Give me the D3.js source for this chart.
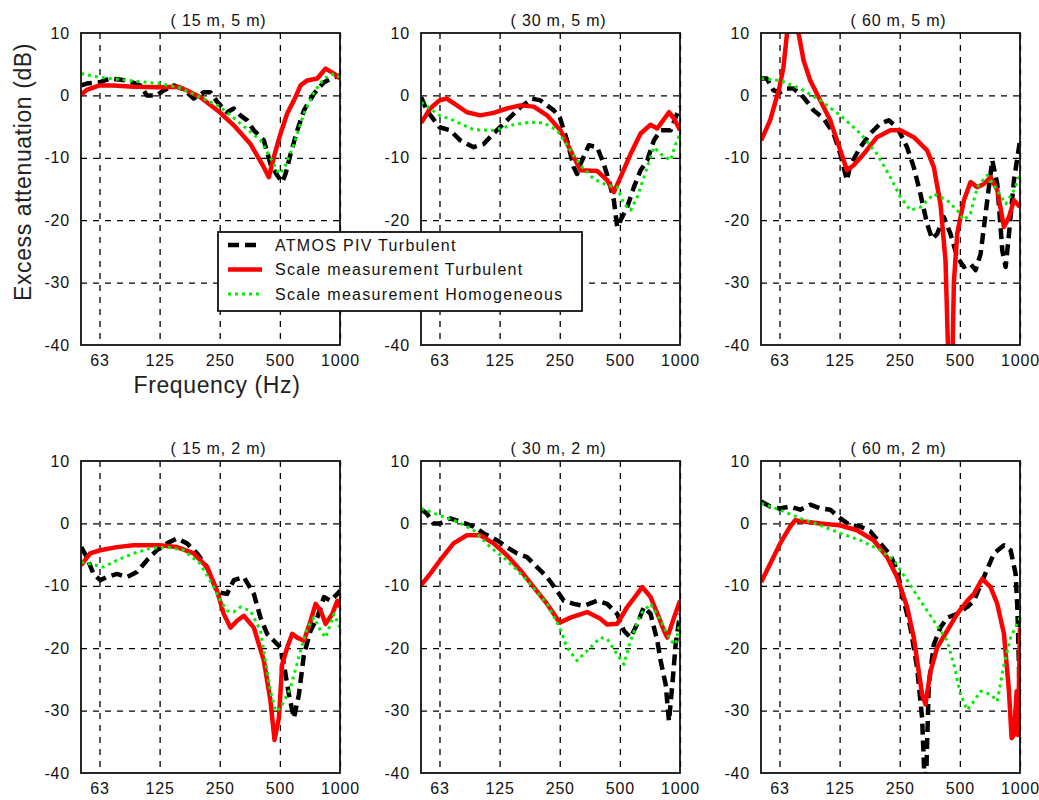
<!DOCTYPE html>
<html>
<head>
<meta charset="utf-8">
<script src="https://cdn.jsdelivr.net/npm/d3@7"></script>
<style>
  body { margin: 0; background: #fff; }
  svg { display: block; font-family: "Liberation Sans", Arial, sans-serif; }
  .tick-label { font-size: 16px; letter-spacing: 0.8px; fill: #111; }
  .grid line { stroke: #000; stroke-width: 1.3; stroke-dasharray: 6,6; }
</style>
</head>
<body>
<svg id="chart" width="1039" height="800"></svg>
<script>
// frequency ticks (Hz) and their printed labels
const freqTicks = [62.5, 125, 250, 500, 1000];
const freqLabels = ["63", "125", "250", "500", "1000"];
const dbTicks = [10, 0, -10, -20, -30, -40];

const seriesNames = ["ATMOS PIV Turbulent", "Scale measurement Turbulent", "Scale measurement Homogeneous"];
const panelTitles = ["( 15 m, 5 m)", "( 30 m, 5 m)", "( 60 m, 5 m)", "( 15 m, 2 m)", "( 30 m, 2 m)", "( 60 m, 2 m)"];

// [frequency Hz, excess attenuation dB]
const atmos15_5 = [[50.6,1.6],[54,1.9],[62.5,2.1],[70.7,2.7],[85.7,2.4],[100,1.6],[108,0],[121.2,0],[130.9,0.8],[147,1.6],[164.9,1],[185.1,-0.5],[207.8,0.5],[224.4,0.5],[242.4,-1],[272,-2.7],[293.9,-2.1],[317.4,-3.2],[342.8,-4],[370.3,-5.6],[415.6,-7.2],[448.8,-11],[484.9,-12.8],[513.6,-13.9],[533.6,-12.6],[565.6,-9.4],[610.9,-5.6],[659.8,-2.4],[740.6,0.3],[831.3,2.1],[933,2.9],[1000,3.2]];
const scaleT15_5 = [[50.6,0.1],[54,0.9],[62.5,1.6],[73.5,1.6],[92.6,1.4],[125,1.3],[152.7,1.4],[171.4,0.8],[200,-0.3],[250,-2.7],[293.9,-4.8],[356.3,-7.8],[415.6,-11.5],[440.3,-13.1],[466.5,-9.9],[503.9,-6.1],[544,-2.9],[587.8,-0.8],[635,1.6],[685.7,2.4],[769.6,2.7],[847.5,4.3],[933,3.5],[1000,2.7]];
const scaleH15_5 = [[50.6,3.5],[62.5,2.9],[92.6,2.3],[125,1.9],[158.7,1.2],[200,-0.3],[250,-1.8],[317.4,-4.5],[399.9,-7.2],[466.5,-11],[494.4,-12.6],[523.6,-11.8],[587.8,-7.8],[659.8,-2.9],[740.6,0.5],[831.3,2.7],[933,3.5],[1000,2.9]];

const atmos30_5 = [[50.6,-0.3],[54,-2.4],[62.5,-5.1],[70.7,-5.6],[79.4,-7.2],[92.6,-8.3],[103.9,-7.8],[116.6,-6.1],[136,-4],[158.7,-1.9],[181.6,-0.5],[200,-0.8],[233.3,-2.4],[250,-3.5],[272,-7.2],[293.9,-11.5],[305.4,-12.6],[317.4,-11],[349.4,-8],[384.8,-8.3],[415.6,-11],[440.3,-13.6],[466.5,-16.8],[484.9,-21.1],[503.9,-20],[544,-17.9],[587.8,-14.7],[635,-12],[685.7,-10.4],[740.6,-7.2],[800,-5.6],[897.8,-5.6],[951.1,-3.5],[1000,-1.9]];
const scaleT30_5 = [[50.6,-4.4],[56.1,-2.1],[62.5,-0.8],[68,-0.5],[76.4,-1.6],[85.7,-2.7],[100,-3.2],[116.6,-2.8],[136,-2.1],[158.7,-1.6],[185.1,-1.8],[216,-3.2],[252,-5.6],[282.8,-8.8],[317.4,-12],[384.8,-12.1],[431.9,-13.6],[466.5,-15.5],[503.9,-13.1],[565.6,-9.4],[635,-6.1],[712.5,-4.7],[769.6,-5.3],[880.8,-2.7],[933,-3.7],[1000,-5.6]];
const scaleH30_5 = [[50.6,-1.1],[56.1,-2.1],[62.5,-3.2],[73.5,-4],[92.6,-5.5],[116.6,-5.6],[147,-4.7],[178.1,-4.3],[207.8,-4.4],[242.4,-5.6],[282.8,-8.8],[317.4,-11.2],[370.3,-13.4],[431.9,-14.4],[484.9,-14.7],[523.6,-17.4],[565.6,-18.4],[610.9,-16.3],[659.8,-13.1],[740.6,-8.3],[800,-9.4],[897.8,-10.4],[951.1,-7.8],[1000,-6.1]];

const atmos60_5 = [[50.6,2.7],[54,2.7],[58.3,0.8],[63,0.5],[68,1.1],[73.5,1.1],[82.5,-0.3],[92.6,-2.4],[103.9,-3.7],[116.6,-6.1],[126,-9.4],[136,-13.6],[141.4,-11.2],[158.7,-8.3],[178.1,-6.1],[200,-4.5],[220.2,-4],[242.4,-5.1],[272,-8.3],[293.9,-11.5],[317.4,-15.8],[342.8,-20.6],[363.2,-23],[384.8,-22.2],[415.6,-19.5],[448.8,-22.2],[484.9,-25.9],[523.6,-27.5],[565.6,-27],[599.2,-28],[635,-25.4],[685.7,-16.8],[726.4,-10.4],[769.6,-14.2],[815.5,-24.9],[847.5,-27.5],[880.8,-22.2],[933,-13.6],[1000,-7.2]];
const scaleT60_5 = [[50.6,-7.2],[56.1,-4],[62.5,1.3],[65.4,4.5],[68.2,10],[72.9,15],[77.8,10],[82.5,5.6],[89.1,2.4],[100,-0.8],[112.2,-4],[126,-8.8],[136,-12],[147,-11.2],[164.9,-9.4],[192.4,-6.7],[224.4,-5.6],[252,-5.6],[293.9,-6.7],[342.8,-8.8],[370.3,-11.5],[399.9,-17.4],[423.7,-26.5],[440.3,-45],[457.5,-45],[466.5,-30],[484.9,-22.2],[523.6,-16.8],[565.6,-13.9],[610.9,-14.7],[659.8,-14.2],[712.5,-13.1],[769.6,-15.2],[831.3,-21.1],[880.8,-19.5],[933,-16.8],[1000,-17.9]];
const scaleH60_5 = [[50.6,2.7],[62.5,2.4],[79.4,1.1],[100,-0.8],[126,-3.2],[158.7,-6.1],[192.4,-9.4],[224.4,-13.1],[252,-16.3],[282.8,-18.4],[317.4,-17.9],[370.3,-15.8],[431.9,-16.8],[484.9,-18.4],[523.6,-20],[565.6,-18.9],[610.9,-14.7],[685.7,-12.8],[769.6,-15.2],[847.5,-17.4],[933,-15.2],[1000,-12.6]];

const atmos15_2 = [[50.6,-3.8],[54,-5.4],[58.3,-8.1],[63,-9.1],[68,-8.6],[76.4,-8.1],[85.7,-8.6],[96.2,-7.8],[108,-5.9],[121.2,-4.3],[136,-3.2],[152.7,-2.4],[171.4,-3.2],[192.4,-4.8],[216,-7],[242.4,-11],[272,-11.3],[293.9,-9.1],[329.9,-8.6],[370.3,-11.3],[399.9,-15.1],[431.9,-17.7],[466.5,-18.8],[503.9,-19.9],[523.6,-22.6],[554.7,-27.4],[587.8,-31.2],[622.9,-27.4],[659.8,-21],[712.5,-17.2],[769.6,-15.1],[831.3,-11.8],[897.8,-12.4],[969.6,-11.3],[1000,-10.8]];
const scaleT15_2 = [[50.6,-6.7],[56.1,-4.8],[63,-4.3],[76.4,-3.8],[92.6,-3.5],[125,-3.5],[152.7,-3.8],[185.1,-4.8],[216,-7],[242.4,-10.8],[261.8,-14.5],[282.8,-16.7],[305.4,-15.6],[329.9,-14.8],[370.3,-16.7],[415.6,-22],[448.8,-28.5],[470,-34.7],[494.4,-31.2],[513.6,-22.6],[544,-19.9],[576.6,-17.7],[610.9,-18.3],[659.8,-18.8],[712.5,-15.6],[754.9,-12.9],[800,-14],[847.5,-16.1],[915.3,-14.5],[969.6,-12.4],[1000,-13.4]];
const scaleH15_2 = [[50.6,-6.2],[56.1,-6.5],[65.4,-7],[76.4,-5.9],[92.6,-4.8],[112.2,-4],[136,-3.8],[164.9,-4.3],[200,-6.5],[233.3,-10.2],[252,-12.4],[272,-14],[293.9,-14.2],[317.4,-13.4],[356.3,-14],[399.9,-17.2],[448.8,-26.9],[475.6,-30.1],[503.9,-29.6],[565.6,-26.3],[635,-20.4],[685.7,-16.7],[740.6,-15.1],[800,-17.2],[847.5,-18.3],[933,-14.5],[1000,-16.7]];

const atmos30_2 = [[50.6,2.2],[54,1.6],[58.3,0],[63,0],[70.7,0.8],[79.4,0.3],[92.6,-0.5],[103.9,-1.6],[121.2,-2.7],[136,-3.8],[152.7,-4.8],[171.4,-5.4],[192.4,-7],[216,-8.6],[242.4,-10.8],[261.8,-12.4],[293.9,-12.9],[329.9,-13.2],[384.8,-12.4],[431.9,-12.9],[484.9,-14.5],[523.6,-17.2],[565.6,-18.3],[610.9,-16.1],[659.8,-13.4],[712.5,-14.5],[769.6,-18.8],[800,-22],[847.5,-25.8],[880.8,-31.7],[915.3,-25.8],[951.1,-19.4],[1000,-14.5]];
const scaleT30_2 = [[50.6,-9.9],[56.1,-8.1],[63,-5.9],[73.5,-3.2],[85.7,-1.9],[100,-1.9],[116.6,-3.2],[136,-5.1],[158.7,-7.5],[185.1,-10.2],[216,-12.9],[250,-15.9],[282.8,-15.1],[342.8,-14.2],[399.9,-15.3],[431.9,-16.2],[484.9,-16.1],[544,-13.4],[610.9,-11.3],[647,-10.2],[712.5,-11.8],[784.6,-15.1],[831.3,-17.2],[864,-18.3],[933,-15.1],[1000,-12.4]];
const scaleH30_2 = [[50.6,2.4],[62.5,1.3],[76.4,0.3],[92.6,-1.1],[112.2,-3.8],[136,-5.9],[171.4,-9.1],[216,-12.9],[250,-16.7],[272,-19.9],[305.4,-22],[342.8,-20.4],[399.9,-18.3],[431.9,-18.5],[484.9,-21],[523.6,-22.6],[565.6,-18.8],[635,-14.5],[712.5,-12.9],[800,-15.6],[897.8,-18.8],[951.1,-19.4],[1000,-15.6]];

const atmos60_2 = [[50.6,3.5],[56.1,2.7],[62.5,2.4],[70.7,2.7],[79.4,2.2],[89.1,3],[100,2.4],[112.2,2.2],[126,0.8],[141.4,-0.3],[158.7,-0.5],[178.1,-1.3],[200,-3.2],[224.4,-5.1],[242.4,-7.5],[261.8,-12.4],[282.8,-16.7],[305.4,-23.1],[323.5,-31.2],[336.3,-45],[349.4,-25.8],[370.3,-19.4],[399.9,-16.7],[431.9,-15.1],[484.9,-14.5],[544,-13.4],[587.8,-12.4],[659.8,-8.6],[740.6,-4.8],[831.3,-3.5],[897.8,-4.3],[951.1,-8.1],[969.6,-13.4],[988.4,-23],[1000,-31.7]];
const scaleT60_2 = [[50.6,-9.4],[56.1,-6.5],[63,-3.2],[70.7,-0.5],[74.9,0.5],[82.5,0.3],[100,0],[125,-0.3],[152.7,-1.1],[185.1,-2.7],[216,-5.4],[242.4,-8.6],[272,-13.4],[293.9,-18.3],[323.5,-27.4],[336.3,-29],[356.3,-23.7],[384.8,-19.9],[431.9,-17.2],[484.9,-14.5],[544,-12.4],[587.8,-11.3],[647,-8.9],[712.5,-10.2],[769.6,-12.9],[831.3,-17.7],[880.8,-26.9],[908,-34.4],[933,-33.9],[962,-26.9],[977,-33.9],[1000,-16.7]];
const scaleH60_2 = [[50.6,3.2],[62.5,2.2],[79.4,0.8],[100,-0.3],[126,-1.6],[158.7,-2.7],[200,-4.3],[233.3,-5.9],[272,-9.1],[317.4,-12.4],[370.3,-15.6],[431.9,-18.8],[466.5,-22.6],[503.9,-27.4],[544,-29.9],[587.8,-28.5],[635,-26.9],[712.5,-27.4],[769.6,-28.5],[831.3,-22.6],[897.8,-18.3],[1000,-15.1]];

const panelSeries = [
  [atmos15_5, scaleT15_5, scaleH15_5],
  [atmos30_5, scaleT30_5, scaleH30_5],
  [atmos60_5, scaleT60_5, scaleH60_5],
  [atmos15_2, scaleT15_2, scaleH15_2],
  [atmos30_2, scaleT30_2, scaleH30_2],
  [atmos60_2, scaleT60_2, scaleH60_2]
];

// line styles, same order as seriesNames
const styles = [
  {color: "#000000", width: 4.5, dash: "11,6"},
  {color: "#ff0000", width: 4.5, dash: null},
  {color: "#00ee00", width: 3, dash: "3,4"}
];

const W = 259, H = 312;
const lefts = [81, 421, 761];
const tops = [33, 461];

const svg = d3.select("#chart");

const x = d3.scaleLog().domain([50.5, 1000]).range([0, W]);
const y = d3.scaleLinear().domain([-40, 10]).range([H, 0]);

const line = d3.line()
    .x(d => x(d[0]))
    .y(d => y(d[1]));

panelSeries.forEach((series, i) => {
  const g = svg.append("g")
      .attr("transform", `translate(${lefts[i % 3]},${tops[Math.floor(i / 3)]})`);

  g.append("clipPath").attr("id", "clip" + i)
    .append("rect").attr("width", W).attr("height", H);

  // dashed grid
  g.append("g").attr("class", "grid")
      .call(d3.axisBottom(x).tickValues(freqTicks).tickSize(H).tickFormat(""))
      .call(s => s.select(".domain").remove());
  g.append("g").attr("class", "grid")
      .call(d3.axisLeft(y).tickValues(dbTicks.slice(1, -1)).tickSize(-W).tickFormat(""))
      .call(s => s.select(".domain").remove());

  // tick labels (the legend box hides the -30 label of the second panel)
  const yLabels = i === 1 ? dbTicks.filter(v => v !== -30) : dbTicks;
  g.append("g")
      .attr("transform", `translate(0,${H})`)
      .call(d3.axisBottom(x).tickValues(freqTicks).tickSize(0).tickPadding(10)
        .tickFormat((d, k) => freqLabels[k]))
      .call(s => s.select(".domain").remove())
      .selectAll("text").attr("class", "tick-label").attr("font-family", null).attr("font-size", null);
  g.append("g")
      .call(d3.axisLeft(y).tickValues(yLabels).tickSize(0).tickPadding(11))
      .call(s => s.select(".domain").remove())
      .selectAll("text").attr("class", "tick-label").attr("font-family", null).attr("font-size", null)
      .text(d => d);

  // curves
  g.append("g").attr("clip-path", `url(#clip${i})`)
    .selectAll("path")
    .data(series)
    .join("path")
      .attr("d", line)
      .attr("fill", "none")
      .attr("stroke", (d, k) => styles[k].color)
      .attr("stroke-width", (d, k) => styles[k].width)
      .attr("stroke-dasharray", (d, k) => styles[k].dash)
      .attr("stroke-linejoin", "round");

  // frame
  g.append("rect")
      .attr("width", W).attr("height", H)
      .attr("fill", "none").attr("stroke", "#111").attr("stroke-width", 1.8);

  g.append("text")
      .attr("x", W / 2 + 8).attr("y", -7)
      .attr("text-anchor", "middle")
      .attr("class", "tick-label")
      .text(panelTitles[i]);
});

// axis titles
svg.append("text")
    .attr("transform", "translate(31,172) rotate(-90)")
    .attr("text-anchor", "middle")
    .style("font-size", "23px").style("letter-spacing", "0.6px").style("fill", "#222")
    .text("Excess attenuation (dB)");
svg.append("text")
    .attr("x", 217).attr("y", 393)
    .attr("text-anchor", "middle")
    .style("font-size", "23px").style("letter-spacing", "0.6px").style("fill", "#222")
    .text("Frequency (Hz)");

// legend
const leg = svg.append("g").attr("transform", "translate(218,232)");
leg.append("rect")
    .attr("width", 364).attr("height", 79)
    .attr("fill", "#fff").attr("stroke", "#111").attr("stroke-width", 1.8);
const rowY = d3.scalePoint().domain(seriesNames).range([13, 62]);
seriesNames.forEach((name, k) => {
  leg.append("line")
      .attr("x1", 10).attr("x2", 44)
      .attr("y1", rowY(name)).attr("y2", rowY(name))
      .attr("stroke", styles[k].color)
      .attr("stroke-width", styles[k].width)
      .attr("stroke-dasharray", styles[k].dash);
  leg.append("text")
      .attr("x", 57).attr("y", rowY(name))
      .attr("dy", "0.35em")
      .attr("class", "tick-label")
      .style("letter-spacing", "1.3px")
      .text(name);
});
</script>
</body>
</html>
